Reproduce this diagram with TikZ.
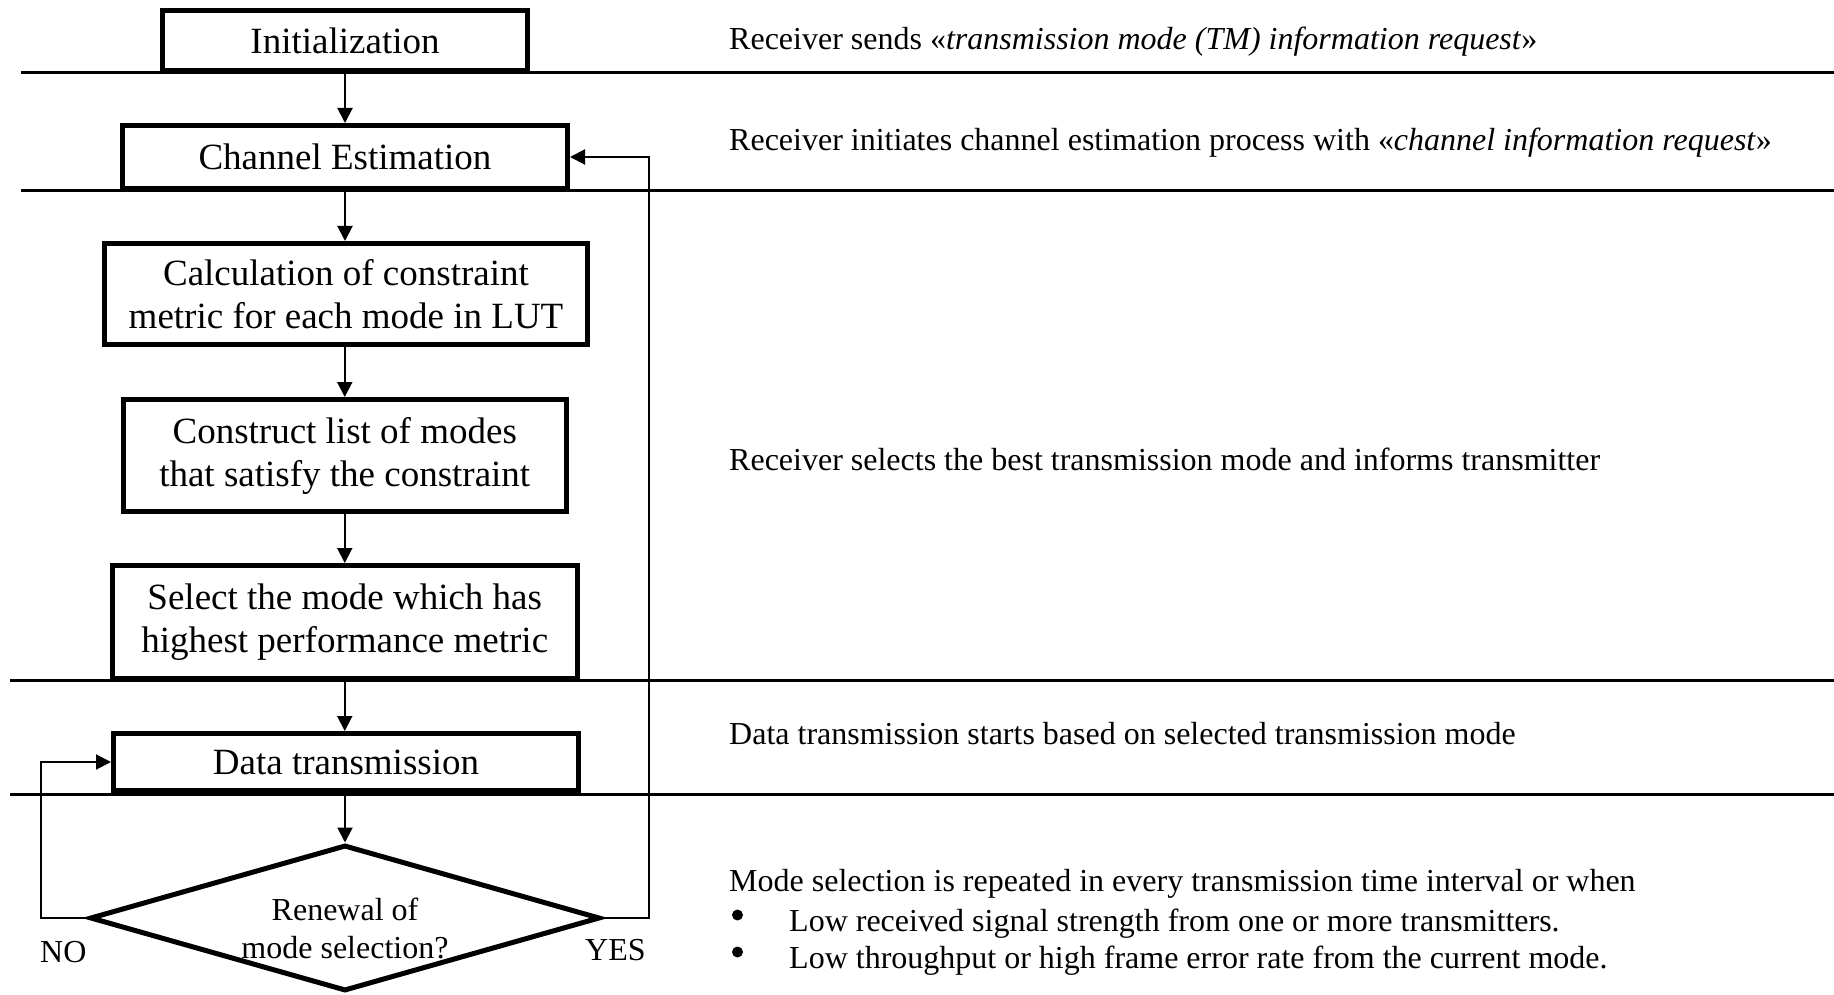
\documentclass[tikz,border=0pt]{standalone}
\usepackage{fontspec}
\setmainfont{Liberation Serif}
\usetikzlibrary{arrows.meta,shapes.geometric}
\begin{document}
\begin{tikzpicture}[x=1pt,y=-1pt,
  box/.style={draw, line width=5pt, fill=white, font=\fontsize{37}{43}\selectfont, align=center, inner sep=0pt},
  decbox/.style={draw, diamond, line width=5pt, fill=white, inner sep=0pt, aspect=3.4},
  sepline/.style={line width=3pt},
  flow/.style={line width=2pt, -{Triangle[length=15pt,width=15pt]}},
  rtext/.style={anchor=base west, font=\fontsize{32}{38}\selectfont, inner sep=0pt},
  bulletdot/.style={circle, fill=black, inner sep=0pt, minimum size=11pt},
  dtext/.style={anchor=base, font=\fontsize{32}{38}\selectfont, inner sep=0pt},
]
\useasboundingbox (0,0) rectangle (1834,995);

% separator lines
\draw[sepline] (21,72.7) -- (1834,72.7);
\draw[sepline] (21,190.6) -- (1834,190.6);
\draw[sepline] (10,680.7) -- (1834,680.7);
\draw[sepline] (10,794) -- (1834,794);

% boxes
\node[box, minimum width=365pt, minimum height=60pt] (init) at (345,40.5) {Initialization};
\node[box, minimum width=445pt, minimum height=63pt] (chan) at (345,157) {Channel Estimation};
\node[box, minimum width=483pt, minimum height=101pt] (calc) at (346,294) {Calculation of constraint\\metric for each mode in LUT};
\node[box, minimum width=443.5pt, minimum height=112pt] (cons) at (344.75,455.5) {Construct list of modes\\that satisfy the constraint};
\node[box, minimum width=464.5pt, minimum height=113pt] (sel) at (344.75,622) {Select the mode which has\\highest performance metric};
\node[box, minimum width=465pt, minimum height=57pt] (data) at (346,762) {Data transmission};
\node[decbox, minimum width=510pt, minimum height=146pt] (dec) at (345,918) {};
\node[dtext] (dec1) at (345,920.7) {Renewal of};
\node[dtext] (dec2) at (345,958) {mode selection?};

% connectors
\draw[flow] (init.south) -- (chan.north);
\draw[flow] (chan.south) -- (chan.south |- calc.north);
\draw[flow] (calc.south -| cons.north) -- (cons.north);
\draw[flow] (cons.south) -- (sel.north);
\draw[flow] (sel.south) -- (sel.south |- data.north);
\draw[flow] (data.south -| dec.north) -- (dec.north);
\draw[flow] (dec.east) -- ++(46,0) |- (chan.east);
\draw[flow] (dec.west) -- ++(-46.5,0) |- (data.west);

% labels
\node[rtext] (no) at (40,962.7) {NO};
\node[rtext] (yes) at (585,960) {YES};

% right-hand texts
\node[rtext] (t1) at (729,50) {Receiver sends «\textit{transmission mode (TM) information request}»};
\node[rtext] (t2) at (729,150.7) {Receiver initiates channel estimation process with «\textit{channel information request}»};
\node[rtext] (t3) at (729,470) {Receiver selects the best transmission mode and informs transmitter};
\node[rtext] (t4) at (729,744) {Data transmission starts based on selected transmission mode};
\node[rtext] (t5) at (729,891.7) {Mode selection is repeated in every transmission time interval or when};
\node[bulletdot] (bu1) at (737.5,915) {};
\node[rtext] (b1) at (789,931) {Low received signal strength from one or more transmitters.};
\node[bulletdot] (bu2) at (737.5,952) {};
\node[rtext] (b2) at (789,968.3) {Low throughput or high frame error rate from the current mode.};
\end{tikzpicture}
\end{document}
